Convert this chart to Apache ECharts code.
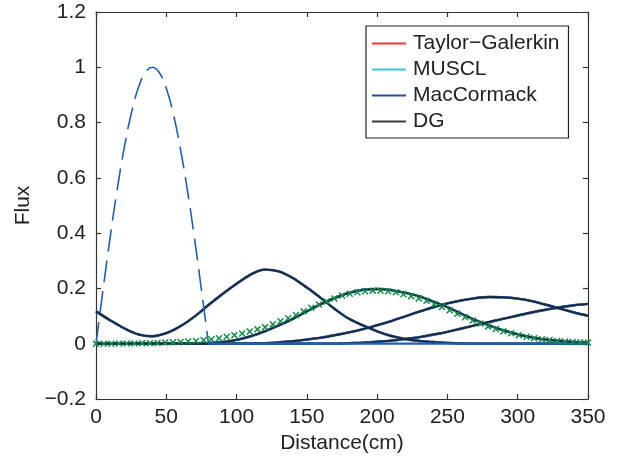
<!DOCTYPE html>
<html>
<head>
<meta charset="utf-8">
<script src="https://cdn.jsdelivr.net/npm/echarts@6/dist/echarts.min.js"></script>
<style>
  html, body { margin: 0; padding: 0; background: #fff; }
  #main { width: 620px; height: 464px; }
</style>
</head>
<body>
<div id="main"></div>
<script>
// x positions (cm) where the solid curves were read
const xGrid = [0, 10, 20, 30, 40, 50, 60, 70, 80, 90, 100, 110, 120, 130, 140, 150, 160, 170,
  180, 190, 200, 210, 220, 230, 240, 250, 260, 270, 280, 290, 300, 310, 320, 330, 340, 350];

// flux at the four later times (all methods overlap)
const curveT1 = [0.117, 0.085, 0.056, 0.034, 0.027, 0.038, 0.063, 0.098, 0.14, 0.18, 0.217, 0.25, 0.268, 0.262,
  0.238, 0.203, 0.165, 0.125, 0.09, 0.066, 0.045, 0.028, 0.017, 0.01, 0.006, 0.003, 0.001, 0, 0, 0, 0, 0, 0, 0, 0, 0];
const curveT2 = [0, 0, 0, 0, 0, 0, 0, 0, 0.002, 0.006, 0.014, 0.027, 0.045, 0.066, 0.09, 0.117, 0.143, 0.166,
  0.184, 0.195, 0.198, 0.194, 0.184, 0.171, 0.152, 0.132, 0.108, 0.085, 0.065, 0.048, 0.034, 0.023, 0.015, 0.01, 0.006, 0.004];
const curveT3 = [0, 0, 0, 0, 0, 0, 0, 0, 0, 0, 0, 0, 0.002, 0.005, 0.009, 0.015, 0.022, 0.031,
  0.041, 0.053, 0.067, 0.082, 0.099, 0.116, 0.132, 0.146, 0.157, 0.165, 0.169, 0.168, 0.163, 0.154, 0.141, 0.127, 0.113, 0.101];
const curveT4 = [0, 0, 0, 0, 0, 0, 0, 0, 0, 0, 0, 0, 0, 0, 0, 0, 0, 0,
  0.002, 0.004, 0.007, 0.011, 0.017, 0.024, 0.033, 0.043, 0.055, 0.067, 0.079, 0.091, 0.102, 0.113, 0.123, 0.132, 0.139, 0.144];
const baselineX = [80, 350];
const baselineY = [0, 0];

// initial pulse (dashed)
const pulseX = [0, 5, 10, 15, 20, 25, 30, 35, 40, 45, 50, 55, 60, 65, 70, 75, 80];
const pulseY = [0, 0.195, 0.383, 0.556, 0.707, 0.831, 0.924, 0.981, 1.0, 0.981, 0.924, 0.831, 0.707, 0.556, 0.383, 0.195, 0];

// green x markers, 65 evenly spaced points over 0..350
const markY = [0, 0, 0, 0.001, 0.001, 0.001, 0.002, 0.002, 0.003, 0.004, 0.005, 0.006, 0.008, 0.01, 0.013, 0.016,
  0.02, 0.025, 0.031, 0.037, 0.044, 0.052, 0.06, 0.07, 0.081, 0.092, 0.104, 0.117, 0.13, 0.142, 0.153, 0.164,
  0.174, 0.181, 0.186, 0.19, 0.192, 0.192, 0.19, 0.186, 0.179, 0.172, 0.164, 0.155, 0.144, 0.133, 0.121, 0.108,
  0.096, 0.084, 0.073, 0.062, 0.053, 0.045, 0.038, 0.031, 0.025, 0.02, 0.016, 0.013, 0.01, 0.008, 0.006, 0.005, 0.004];
const markX = markY.map((_, i) => i * 350 / 64);

const methods = ['Taylor−Galerkin', 'MUSCL', 'MacCormack', 'DG'];
const methodColors = ['#e8262a', '#3fc5d6', '#1f5fae', '#1d2940'];
const legendColors = ['#f03a3a', '#3fc5d6', '#1f4f9e', '#3a3a3a'];

const xTicks = [0, 50, 100, 150, 200, 250, 300, 350];
const yMin = -0.2, yMax = 1.2, yStep = 0.2;

const font = 'Liberation Sans, Arial, sans-serif';
const pair = (xs, ys) => xs.map((x, i) => [x, ys[i]]);

const series = [];
methods.forEach((m, k) => {
  [curveT1, curveT2, curveT3, curveT4].forEach(c => {
    series.push({
      name: m, type: 'line', data: pair(xGrid, c), symbol: 'none', smooth: 0.35,
      color: methodColors[k],
      lineStyle: { color: methodColors[k], width: k === 3 ? 1.8 : 2.4 }, z: 2 + k
    });
  });
});
series.push({
  name: 'base', type: 'line', data: pair(baselineX, baselineY), symbol: 'none',
  lineStyle: { color: '#1f5fae', width: 2.2 }, z: 7
});
series.push({
  name: 'initial', type: 'line', data: pair(pulseX, pulseY), symbol: 'none', smooth: 0.4,
  lineStyle: { color: '#1f5fb5', width: 1.6, type: [22, 9] }, z: 8
});
series.push({
  name: 'exact', type: 'line', data: pair(markX, markY),
  symbol: 'path://M0,1.5L1.5,0L5,3.5L8.5,0L10,1.5L6.5,5L10,8.5L8.5,10L5,6.5L1.5,10L0,8.5L3.5,5Z',
  symbolSize: 7, lineStyle: { width: 0, opacity: 0 },
  itemStyle: { color: '#0f9045' }, z: 10
});

const chart = echarts.init(document.getElementById('main'), null, { renderer: 'canvas' });
const axisLine = { show: true, onZero: false, lineStyle: { color: '#333', width: 1.2 } };
const axisTick = { show: true, inside: true, length: 5, lineStyle: { color: '#333', width: 1.2 } };

chart.setOption({
  animation: false,
  grid: { left: 96, right: 32, top: 12, bottom: 65 },
  legend: {
    orient: 'vertical', left: 366, top: 26,
    data: methods.map((m, k) => ({ name: m, itemStyle: { color: legendColors[k] } })),
    icon: 'rect', itemWidth: 34, itemHeight: 1.8, itemGap: 5,
    padding: [7, 9, 6, 6],
    backgroundColor: '#fff', borderColor: '#222', borderWidth: 1.2, borderRadius: 0,
    textStyle: { fontFamily: font, fontSize: 21, color: '#222', lineHeight: 20, padding: [0, 0, 0, 2] }
  },
  xAxis: [{
    type: 'value', min: 0, max: 350, interval: 50,
    name: 'Distance(cm)', nameLocation: 'middle', nameGap: 32,
    nameTextStyle: { fontFamily: font, fontSize: 21, color: '#222' },
    axisLine, axisTick, splitLine: { show: false },
    axisLabel: { fontFamily: font, fontSize: 21, color: '#222', margin: 8,
      formatter: v => xTicks.includes(v) ? String(v) : '' }
  }, {
    type: 'value', min: 0, max: 350, interval: 50, position: 'top',
    axisLine, axisTick, splitLine: { show: false }, axisLabel: { show: false }
  }],
  yAxis: [{
    type: 'value', min: yMin, max: yMax, interval: yStep,
    name: 'Flux', nameLocation: 'middle', nameGap: 62,
    nameTextStyle: { fontFamily: font, fontSize: 21, color: '#222' },
    axisLine, axisTick, splitLine: { show: false },
    axisLabel: { fontFamily: font, fontSize: 21, color: '#222', margin: 10,
      formatter: v => String(Math.round(v * 10) / 10).replace('-', '−') }
  }, {
    type: 'value', min: yMin, max: yMax, interval: yStep, position: 'right',
    axisLine, axisTick, splitLine: { show: false }, axisLabel: { show: false }
  }],
  series
});
</script>
</body>
</html>
